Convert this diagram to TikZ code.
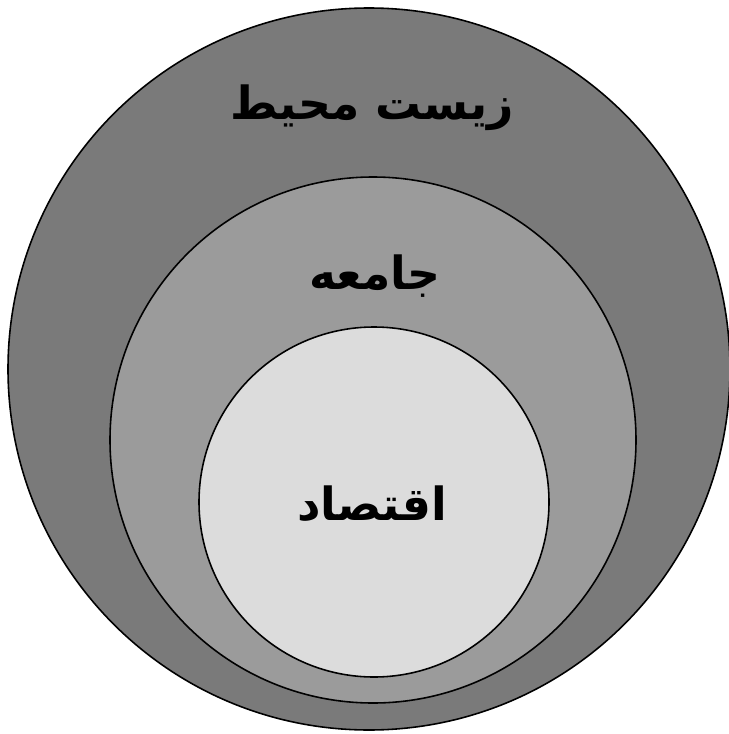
\documentclass[tikz,border=0pt]{standalone}
\usepackage{fontspec}
\newfontfamily\farsifont[Script=Arabic]{DejaVu Sans}
\TeXXeTstate=1
\definecolor{envgray}{RGB}{122,122,122}
\definecolor{socgray}{RGB}{155,155,155}
\definecolor{ecogray}{RGB}{220,220,220}

\begin{document}
\begin{tikzpicture}[x=0.02cm, y=-0.02cm,
  ring/.style={draw, circle, line width=0.9pt, inner sep=0pt},
  label/.style={font=\farsifont\bfseries\fontsize{26}{32}\selectfont, text=black}
]
\useasboundingbox (0,0) rectangle (729,734);
\node[ring, fill=envgray, minimum size=722*0.02cm] (env) at (369,369) {};
\node[ring, fill=socgray, minimum size=526*0.02cm] (soc) at (373,440) {};
\node[ring, fill=ecogray, minimum size=350*0.02cm] (eco) at (374,502) {};
\node[label] (envtext) at (372,108) {\beginR زیست محیط\endR};
\node[label] (soctext) at (375,276) {\beginR جامعه\endR};
\node[label] (ecotext) at (372,504) {\beginR اقتصاد\endR};
\end{tikzpicture}
\end{document}
